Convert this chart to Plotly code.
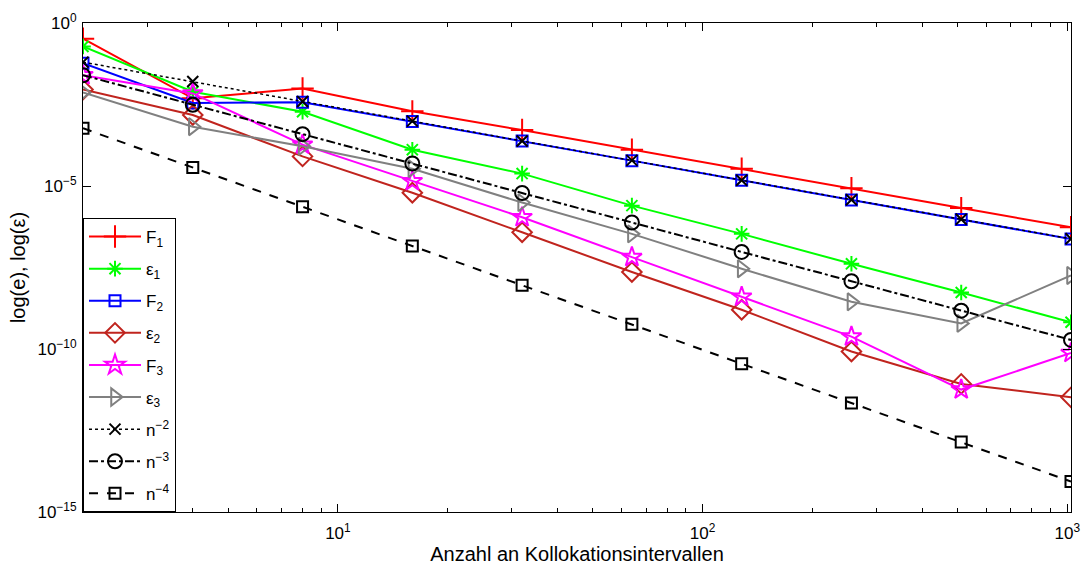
import plotly.graph_objects as go

# Number of collocation intervals
n = [2, 4, 8, 16, 32, 64, 128, 256, 512, 1024]

# Error measures per method
F1 = [3.3e-1, 4.9e-3, 9.8e-3, 1.95e-3, 5.2e-4, 1.3e-4, 3.4e-5, 8.5e-6, 2.1e-6, 5.4e-7]
eps1 = [1.9e-1, 7.8e-3, 1.9e-3, 1.3e-4, 2.4e-5, 2.5e-6, 3.4e-7, 4.1e-8, 5.4e-9, 6.6e-10]
F2 = [5.8e-2, 3.5e-3, 3.7e-3, 9.5e-4, 2.4e-4, 6.0e-5, 1.5e-5, 3.75e-6, 9.4e-7, 2.35e-7]
eps2 = [9.1e-3, 1.5e-3, 8.1e-5, 6.2e-6, 3.8e-7, 2.3e-8, 1.6e-9, 8.4e-11, 8.5e-12, 3.3e-12]
F3 = [2.5e-2, 6.9e-3, 1.85e-4, 1.4e-5, 1.1e-6, 6.6e-8, 4.0e-9, 2.4e-10, 5.7e-12, 7.5e-11]
eps3 = [7.4e-3, 6.6e-4, 1.65e-4, 3.4e-5, 3.1e-6, 3.4e-7, 2.9e-8, 2.8e-9, 6.1e-10, 1.8e-8]

# Reference slopes
ref2 = [6.3e-2, 1.6e-2, 3.9e-3, 9.8e-4, 2.4e-4, 6.1e-5, 1.5e-5, 3.8e-6, 9.5e-7, 2.4e-7]
ref3 = [2.5e-2, 3.1e-3, 3.9e-4, 4.9e-5, 6.1e-6, 7.6e-7, 9.5e-8, 1.2e-8, 1.5e-9, 1.9e-10]
ref4 = [5.9e-4, 3.7e-5, 2.3e-6, 1.45e-7, 9.1e-9, 5.7e-10, 3.5e-11, 2.2e-12, 1.4e-13, 8.6e-15]

series = [
    ("F<sub>1</sub>", F1, "#FF0000", "solid", "cross-thin-open", 16, 2),
    ("\u03b5<sub>1</sub>", eps1, "#00FF00", "solid", "asterisk-open", 13, 2),
    ("F<sub>2</sub>", F2, "#0000FF", "solid", "square-open", 11, 2),
    ("\u03b5<sub>2</sub>", eps2, "#C0241E", "solid", "diamond-open", 15, 2),
    ("F<sub>3</sub>", F3, "#FF00FF", "solid", "star-open", 15, 2),
    ("\u03b5<sub>3</sub>", eps3, "#808080", "solid", "triangle-right-open", 15, 2),
    ("n<sup>\u22122</sup>", ref2, "#000000", "dot", "x-thin-open", 11, 1.5),
    ("n<sup>\u22123</sup>", ref3, "#000000", "dashdot", "circle-open", 14, 2),
    ("n<sup>\u22124</sup>", ref4, "#000000", "dash", "square-open", 11, 2),
]

fig = go.Figure()
for i, (name, y, color, dash, symbol, size, lw) in enumerate(series):
    fig.add_trace(go.Scatter(
        x=n, y=y, name=name, mode="lines+markers",
        legendgroup=f"g{i}",
        line=dict(color=color, width=lw, dash=dash),
        marker=dict(symbol=symbol, size=size, color=color,
                    line=dict(color=color, width=2)),
    ))

font = "Liberation Sans, Arial, Helvetica, sans-serif"

fig.update_layout(
    width=1091, height=568,
    margin=dict(l=83, r=11, t=19, b=56),
    paper_bgcolor="white", plot_bgcolor="white",
    font=dict(family=font, size=16, color="black"),
    showlegend=True,
    legend=dict(
        x=0, y=0, xanchor="left", yanchor="bottom",
        bgcolor="white", bordercolor="black", borderwidth=1,
        font=dict(size=17), tracegroupgap=7, itemwidth=52,
    ),
)

fig.update_xaxes(
    type="log", range=[0.30103, 3.0103],
    tickvals=[10, 100, 1000],
    ticktext=["10<sup>1</sup>", "10<sup>2</sup>", "10<sup>3</sup>"],
    tickfont=dict(size=17), ticklabelstandoff=6,
    ticks="inside", ticklen=8, tickcolor="black",
    minor=dict(ticks="inside", ticklen=4, tickcolor="black", dtick="D1", showgrid=False),
    showline=True, linecolor="black", linewidth=1, mirror="ticks",
    showgrid=False, zeroline=False,
    title=dict(text="Anzahl an Kollokationsintervallen", standoff=0,
               font=dict(size=20)),
)
fig.update_yaxes(
    type="log", range=[-15, 0],
    tickvals=[1e-15, 1e-10, 1e-5, 1],
    ticktext=["10<sup>\u221215</sup>", "10<sup>\u221210</sup>",
              "10<sup>\u22125</sup>", "10<sup>0</sup>"],
    tickfont=dict(size=17), ticklabelstandoff=2,
    ticks="inside", ticklen=8, tickcolor="black",
    showline=True, linecolor="black", linewidth=1, mirror="ticks",
    showgrid=False, zeroline=False,
    title=dict(text="log(e), log(\u03b5)", standoff=6, font=dict(size=20)),
)

fig.write_html("out.html")
